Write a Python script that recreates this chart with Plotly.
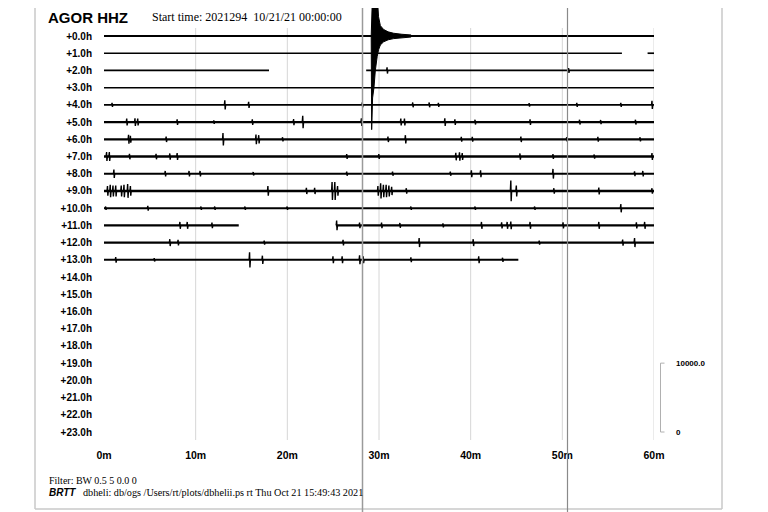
import plotly.graph_objects as go

# ---- text ----
STATION = "AGOR HHZ"
START_TIME = "Start time: 2021294\u00a0 10/21/21 00:00:00"
FILTER_TEXT = "Filter: BW 0.5 5 0.0 0"
FOOTER_TAG = "BRTT"
FOOTER_TEXT = "dbheli: db/ogs /Users/rt/plots/dbhelii.ps rt Thu Oct 21 15:49:43 2021"

HOUR_LABELS = ["+0.0h", "+1.0h", "+2.0h", "+3.0h", "+4.0h", "+5.0h", "+6.0h", "+7.0h",
               "+8.0h", "+9.0h", "+10.0h", "+11.0h", "+12.0h", "+13.0h", "+14.0h", "+15.0h",
               "+16.0h", "+17.0h", "+18.0h", "+19.0h", "+20.0h", "+21.0h", "+22.0h", "+23.0h"]
MINUTE_TICKS = [0, 10, 20, 30, 40, 50, 60]
MINUTE_LABELS = ["0m", "10m", "20m", "30m", "40m", "50m", "60m"]

# amplitude scale: the 10000 count bar spans 4 hour rows
COUNTS_PER_ROW = 2500
SCALE_BAR = [0, 10000]
SCALE_LABELS = ["0", "10000.0"]

# recorded stretches per hour row (start minute, end minute)
SEGMENTS = {
    0: [(0, 60)],
    1: [(0, 56.5), (59.3, 60)],
    2: [(0, 18.0), (28.6, 60)],
    3: [(0, 60)],
    4: [(0, 60)],
    5: [(0, 60)],
    6: [(0, 60)],
    7: [(0, 60)],
    8: [(0, 60)],
    9: [(0, 60)],
    10: [(0, 60)],
    11: [(0, 14.7), (25.3, 60)],
    12: [(0, 60)],
    13: [(0, 45.2)],
}

# background noise half-amplitude per row (counts)
NOISE = [130, 120, 120, 105, 140, 165, 160, 165, 160, 175, 140, 160, 150, 150]

# small events per row: (minute, half amplitude in counts)
EVENTS = {
    2: [(30.9, 450), (50.7, 350)],
    4: [(0.9, 300), (13.2, 650), (15.8, 450), (28.2, 350), (33.7, 350), (35.5, 350),
        (36.5, 300), (46.4, 250), (51.6, 300), (56.4, 300), (59.8, 600)],
    5: [(2.5, 500), (3.4, 550), (3.7, 500), (8.0, 400), (12.0, 250), (16.2, 400),
        (20.7, 450), (21.7, 900), (28.1, 550), (32.4, 500), (32.8, 500), (37.2, 550),
        (38.3, 400), (40.5, 350), (46.5, 400), (51.9, 350), (54.2, 300), (58.0, 350)],
    6: [(2.7, 650), (2.9, 500), (6.8, 400), (13.0, 900), (16.6, 700), (16.9, 600),
        (19.5, 300), (31.0, 400), (32.9, 600), (39.0, 350), (40.2, 350), (45.5, 400),
        (50.5, 300), (53.9, 350), (58.5, 300)],
    7: [(0.3, 650), (0.6, 650), (2.8, 400), (5.7, 400), (7.2, 450), (8.0, 500),
        (26.5, 350), (30.0, 350), (38.4, 550), (38.8, 600), (39.1, 500), (45.4, 450),
        (49.0, 350), (53.5, 300), (59.8, 500)],
    8: [(1.1, 600), (6.7, 400), (9.3, 400), (10.5, 400), (16.3, 250), (26.5, 300),
        (31.5, 300), (37.8, 300), (40.1, 500), (41.1, 500), (49.0, 700), (57.9, 350),
        (58.8, 400)],
    9: [(0.4, 700), (0.7, 900), (1.0, 800), (1.3, 800), (1.9, 800), (2.2, 900),
        (2.6, 1000), (2.9, 700), (17.9, 700), (22.1, 450), (23.0, 450), (24.9, 1300),
        (25.2, 1300), (25.5, 700), (29.9, 700), (30.2, 1100), (30.5, 900), (30.8, 900),
        (31.1, 800), (31.4, 600), (33.0, 400), (44.4, 1500), (45.0, 800), (49.1, 400),
        (54.0, 500), (59.8, 400)],
    10: [(0.2, 250), (4.8, 350), (10.6, 250), (12.1, 250), (15.4, 250), (20.0, 250),
         (33.5, 250), (40.5, 250), (47.0, 250), (56.4, 600)],
    11: [(8.3, 500), (9.1, 500), (11.8, 400), (25.4, 700), (27.9, 400), (30.3, 400),
         (32.3, 350), (37.0, 300), (41.2, 500), (43.4, 450), (44.0, 500), (44.4, 550),
         (46.5, 500), (50.1, 450), (54.0, 500), (58.1, 450), (59.0, 500)],
    12: [(7.2, 500), (8.1, 400), (17.5, 300), (26.1, 400), (34.4, 650), (40.3, 500),
         (47.5, 300), (56.6, 450), (57.9, 650)],
    13: [(1.3, 400), (5.5, 250), (15.9, 1100), (17.3, 600), (25.0, 500), (26.0, 500),
         (27.9, 650), (28.3, 500), (33.5, 350), (40.9, 500), (43.5, 300)],
}

# large earthquake in the first hour: envelope (minute, up counts, down counts)
QUAKE_T = [29.15, 29.2, 29.3, 29.45, 29.6, 29.8, 29.95, 30.15, 30.5, 31.0, 31.6, 32.5, 33.5]
QUAKE_UP = [0, 6500, 6500, 6500, 6500, 6000, 2800, 1500, 950, 600, 400, 250, 150]
QUAKE_DOWN = [0, 13600, 9000, 7500, 5000, 3000, 2000, 1300, 850, 550, 380, 250, 150]

FONT_SANS = "Liberation Sans, Arial, sans-serif"
FONT_SERIF = "Liberation Serif, Times New Roman, serif"

# geometry in screen pixels; the page puts the figure 8px in from the window corner
PAGE_OFFSET = 8
FIG_W, FIG_H = 768, 512
PLOT_LEFT, PLOT_RIGHT, PLOT_TOP, PLOT_BOTTOM = 104, 654, 8, 440
ROW0_Y, ROW23_Y = 36, 432


def px_x(px):
    return (px - PLOT_LEFT) / (PLOT_RIGHT - PLOT_LEFT)


def px_y(py):
    return (PLOT_BOTTOM - py) / (PLOT_BOTTOM - PLOT_TOP)


def baseline_trace(row):
    xs, ys = [], []
    for start, end in SEGMENTS[row]:
        xs += [start, end, None]
        ys += [row, row, None]
    return go.Scatter(x=xs, y=ys, mode='lines',
                      line={'color': 'black', 'width': NOISE[row] / 72},
                      hoverinfo='skip')


def events_trace(row):
    # each event drawn as a narrow up/down wiggle around the baseline
    xs, ys = [], []
    for t, a in sorted(EVENTS.get(row, [])):
        if not any(start < t < end for start, end in SEGMENTS[row]):
            continue
        d = a / COUNTS_PER_ROW
        xs += [t - 0.07, t - 0.02, t + 0.02, t + 0.07, None]
        ys += [row, row - d, row + d, row, None]
    return go.Scatter(x=xs, y=ys, mode='lines',
                      line={'color': 'black', 'width': 1.4},
                      hoverinfo='skip')


fig = go.Figure()

for r in SEGMENTS:
    fig.add_trace(baseline_trace(r))
    if r in EVENTS:
        fig.add_trace(events_trace(r))

# earthquake envelope on the first row
qx = QUAKE_T + QUAKE_T[::-1]
qy = [-u / COUNTS_PER_ROW for u in QUAKE_UP] + [d / COUNTS_PER_ROW for d in QUAKE_DOWN[::-1]]
fig.add_trace(go.Scatter(x=qx, y=qy, mode='lines', fill='toself', fillcolor='black',
                         line={'color': 'black', 'width': 1}, hoverinfo='skip'))

row_px = (ROW23_Y - ROW0_Y) / 23  # spacing of hour rows in pixels
y_top = -(ROW0_Y - PLOT_TOP) / row_px
y_bottom = 23 + (PLOT_BOTTOM - ROW23_Y) / row_px

shapes = []
# minute grid lines
for m in MINUTE_TICKS[1:]:
    shapes.append(dict(type='line', xref='x', yref='y', x0=m, x1=m,
                       y0=-8 / row_px, y1=y_bottom, layer='below',
                       line={'color': '#d6d6d6', 'width': 1}))
# page frame and the two long vertical rules
frame = {'color': '#c8c8c8', 'width': 1.5}
shapes += [
    dict(type='line', xref='paper', yref='paper', x0=px_x(35), x1=px_x(35),
         y0=px_y(PLOT_TOP), y1=px_y(509), line=frame),
    dict(type='line', xref='paper', yref='paper', x0=px_x(35), x1=px_x(722),
         y0=px_y(509), y1=px_y(509), line=frame),
    dict(type='line', xref='paper', yref='paper', x0=px_x(722), x1=px_x(722),
         y0=px_y(PLOT_TOP), y1=px_y(509), line=frame),
    dict(type='line', xref='paper', yref='paper', x0=px_x(362.5), x1=px_x(362.5),
         y0=px_y(PLOT_TOP), y1=px_y(512), line={'color': '#9a9a9a', 'width': 1.5}),
    dict(type='line', xref='paper', yref='paper', x0=px_x(567.5), x1=px_x(567.5),
         y0=px_y(PLOT_TOP), y1=px_y(512), line={'color': '#8a8a8a', 'width': 1.2}),
]
# amplitude scale bar
bar_top = 23 - SCALE_BAR[1] / COUNTS_PER_ROW
bar_bottom = 23 - SCALE_BAR[0] / COUNTS_PER_ROW
bar = {'color': '#b0b0b0', 'width': 1}
shapes += [
    dict(type='line', xref='paper', yref='y', x0=px_x(660.5), x1=px_x(660.5),
         y0=bar_top, y1=bar_bottom, line=bar),
    dict(type='line', xref='paper', yref='y', x0=px_x(660.5), x1=px_x(664.5),
         y0=bar_top, y1=bar_top, line=bar),
    dict(type='line', xref='paper', yref='y', x0=px_x(660.5), x1=px_x(664.5),
         y0=bar_bottom, y1=bar_bottom, line=bar),
]

annotations = [
    dict(text=STATION, xref='paper', yref='paper', x=px_x(47), y=px_y(17),
         xanchor='left', yanchor='middle', showarrow=False, borderpad=0,
         font={'family': FONT_SANS, 'size': 15, 'color': 'black', 'weight': 'bold'}),
    dict(text=START_TIME, xref='paper', yref='paper', x=px_x(151), y=px_y(17),
         xanchor='left', yanchor='middle', showarrow=False, borderpad=0,
         font={'family': FONT_SERIF, 'size': 12, 'color': 'black'}),
    dict(text=FILTER_TEXT, xref='paper', yref='paper', x=px_x(47), y=px_y(480),
         xanchor='left', yanchor='middle', showarrow=False,
         font={'family': FONT_SERIF, 'size': 10, 'color': 'black'}),
    dict(text=FOOTER_TAG, xref='paper', yref='paper', x=px_x(47), y=px_y(492),
         xanchor='left', yanchor='middle', showarrow=False,
         font={'family': FONT_SANS, 'size': 10, 'color': 'black', 'weight': 'bold',
               'style': 'italic'}),
    dict(text=FOOTER_TEXT, xref='paper', yref='paper', x=px_x(81), y=px_y(492),
         xanchor='left', yanchor='middle', showarrow=False,
         font={'family': FONT_SERIF, 'size': 10.2, 'color': 'black'}),
    dict(text=SCALE_LABELS[1], xref='paper', yref='y', x=px_x(674), y=bar_top,
         xanchor='left', yanchor='middle', showarrow=False,
         font={'family': FONT_SANS, 'size': 8, 'color': 'black', 'weight': 'bold'}),
    dict(text=SCALE_LABELS[0], xref='paper', yref='y', x=px_x(674), y=bar_bottom,
         xanchor='left', yanchor='middle', showarrow=False,
         font={'family': FONT_SANS, 'size': 8, 'color': 'black', 'weight': 'bold'}),
]

fig.update_layout(
    width=FIG_W, height=FIG_H,
    margin={'l': PLOT_LEFT - PAGE_OFFSET,
            'r': FIG_W - (PLOT_RIGHT - PAGE_OFFSET),
            't': PLOT_TOP - PAGE_OFFSET,
            'b': FIG_H - (PLOT_BOTTOM - PAGE_OFFSET), 'pad': 0},
    paper_bgcolor='white', plot_bgcolor='white',
    showlegend=False,
    shapes=shapes,
    annotations=annotations,
    xaxis={'range': [0, 60], 'tickvals': MINUTE_TICKS, 'ticktext': MINUTE_LABELS,
           'showgrid': False, 'zeroline': False, 'showline': False, 'ticks': '',
           'ticklabelstandoff': 7,
           'tickfont': {'family': FONT_SANS, 'size': 10.5, 'color': 'black', 'weight': 'bold'}},
    yaxis={'range': [y_bottom, y_top], 'tickvals': list(range(24)), 'ticktext': HOUR_LABELS,
           'showgrid': False, 'zeroline': False, 'showline': False, 'ticks': '',
           'ticklabelstandoff': 11,
           'tickfont': {'family': FONT_SANS, 'size': 10, 'color': 'black', 'weight': 'bold'}},
)

fig.write_html("out.html")
